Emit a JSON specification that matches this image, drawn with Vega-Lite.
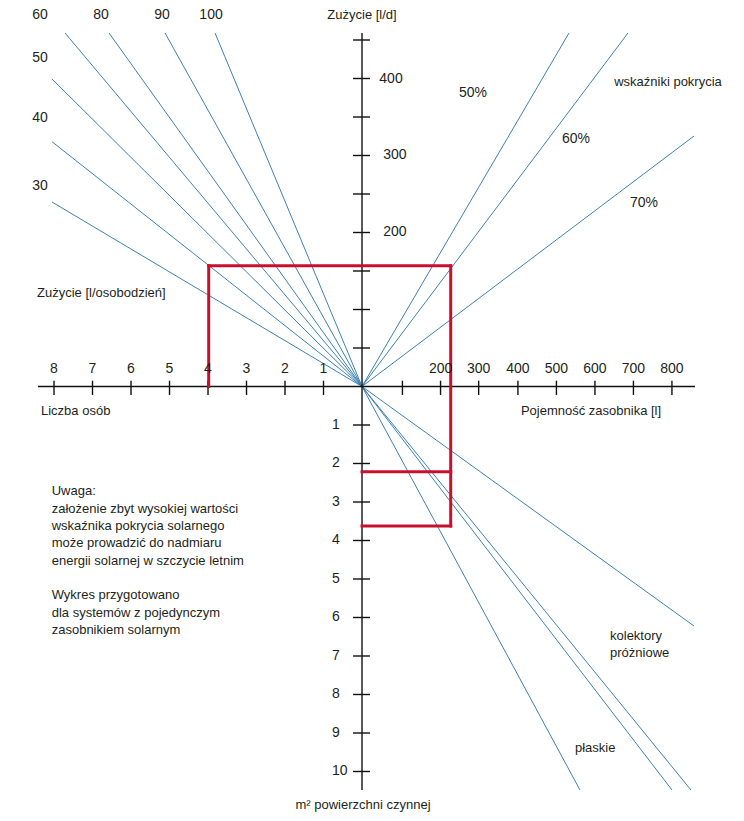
{
  "$schema": "https://vega.github.io/schema/vega-lite/v6.json",
  "width": 744,
  "height": 821,
  "autosize": {"type": "none"},
  "padding": 0,
  "background": "white",
  "config": {"view": {"stroke": null}, "text": {"font": "Liberation Sans", "fontSize": 13, "color": "#231f20"}},
  "datasets": {
    "rays": [
      {"name": "60 l/osobodzień", "x": 0, "y": 0, "x2": -7.714, "y2": 9.182},
      {"name": "80 l/osobodzień", "x": 0, "y": 0, "x2": -6.571, "y2": 9.182},
      {"name": "90 l/osobodzień", "x": 0, "y": 0, "x2": -5.117, "y2": 9.182},
      {"name": "100 l/osobodzień", "x": 0, "y": 0, "x2": -3.818, "y2": 9.182},
      {"name": "50 l/osobodzień", "x": 0, "y": 0, "x2": -8.052, "y2": 7.987},
      {"name": "40 l/osobodzień", "x": 0, "y": 0, "x2": -8.052, "y2": 6.358},
      {"name": "30 l/osobodzień", "x": 0, "y": 0, "x2": -8.052, "y2": 4.792},
      {"name": "50%", "x": 0, "y": 0, "x2": 5.377, "y2": 9.182},
      {"name": "60%", "x": 0, "y": 0, "x2": 6.909, "y2": 9.182},
      {"name": "70%", "x": 0, "y": 0, "x2": 8.623, "y2": 6.506},
      {"name": "kolektory A", "x": 0, "y": 0, "x2": 8.623, "y2": -6.221},
      {"name": "płaskie", "x": 0, "y": 0, "x2": 5.662, "y2": -10.481},
      {"name": "próżniowe 1", "x": 0, "y": 0, "x2": 8.052, "y2": -10.481},
      {"name": "próżniowe 2", "x": 0, "y": 0, "x2": 8.545, "y2": -10.481}
    ],
    "axes": [
      {"x": -8.416, "y": 0, "x2": 8.649, "y2": 0},
      {"x": 0, "y": 9.182, "x2": 0, "y2": -10.481}
    ],
    "ticks": [
      {"x": -8, "y": 0.15, "x2": -8, "y2": -0.22},
      {"x": -7, "y": 0.15, "x2": -7, "y2": -0.22},
      {"x": -6, "y": 0.15, "x2": -6, "y2": -0.22},
      {"x": -5, "y": 0.15, "x2": -5, "y2": -0.22},
      {"x": -4, "y": 0.15, "x2": -4, "y2": -0.22},
      {"x": -3, "y": 0.15, "x2": -3, "y2": -0.22},
      {"x": -2, "y": 0.15, "x2": -2, "y2": -0.22},
      {"x": -1, "y": 0.15, "x2": -1, "y2": -0.22},
      {"x": 1.05, "y": 0.15, "x2": 1.05, "y2": -0.22},
      {"x": 2.04, "y": 0.15, "x2": 2.04, "y2": -0.22},
      {"x": 3.03, "y": 0.15, "x2": 3.03, "y2": -0.22},
      {"x": 4.05, "y": 0.15, "x2": 4.05, "y2": -0.22},
      {"x": 5.05, "y": 0.15, "x2": 5.05, "y2": -0.22},
      {"x": 6.05, "y": 0.15, "x2": 6.05, "y2": -0.22},
      {"x": 7.05, "y": 0.15, "x2": 7.05, "y2": -0.22},
      {"x": 8.05, "y": 0.15, "x2": 8.05, "y2": -0.22},
      {"x": -0.234, "y": 1, "x2": 0.208, "y2": 1},
      {"x": -0.234, "y": 2, "x2": 0.208, "y2": 2},
      {"x": -0.234, "y": 3, "x2": 0.208, "y2": 3},
      {"x": -0.234, "y": 4, "x2": 0.208, "y2": 4},
      {"x": -0.234, "y": 5, "x2": 0.208, "y2": 5},
      {"x": -0.234, "y": 6, "x2": 0.208, "y2": 6},
      {"x": -0.234, "y": 7, "x2": 0.208, "y2": 7},
      {"x": -0.234, "y": 8, "x2": 0.208, "y2": 8},
      {"x": -0.234, "y": 9, "x2": 0.208, "y2": 9},
      {"x": -0.234, "y": -1, "x2": 0.208, "y2": -1},
      {"x": -0.234, "y": -2, "x2": 0.208, "y2": -2},
      {"x": -0.234, "y": -3, "x2": 0.208, "y2": -3},
      {"x": -0.234, "y": -4, "x2": 0.208, "y2": -4},
      {"x": -0.234, "y": -5, "x2": 0.208, "y2": -5},
      {"x": -0.234, "y": -6, "x2": 0.208, "y2": -6},
      {"x": -0.234, "y": -7, "x2": 0.208, "y2": -7},
      {"x": -0.234, "y": -8, "x2": 0.208, "y2": -8},
      {"x": -0.234, "y": -9, "x2": 0.208, "y2": -9},
      {"x": -0.234, "y": -10, "x2": 0.208, "y2": -10}
    ],
    "red": [
      {"x": -3.982, "y": 0, "x2": -3.982, "y2": 3.138},
      {"x": -3.982, "y": 3.138, "x2": 2.304, "y2": 3.138},
      {"x": 2.304, "y": 3.138, "x2": 2.304, "y2": -3.623},
      {"x": 0, "y": -2.213, "x2": 2.304, "y2": -2.213},
      {"x": 0, "y": -3.623, "x2": 2.304, "y2": -3.623}
    ],
    "centerNumbers": [
      {"label": "60", "x": -8.364, "y": 9.649},
      {"label": "80", "x": -6.779, "y": 9.649},
      {"label": "90", "x": -5.195, "y": 9.649},
      {"label": "100", "x": -3.922, "y": 9.649},
      {"label": "50", "x": -8.364, "y": 8.532},
      {"label": "40", "x": -8.364, "y": 6.974},
      {"label": "30", "x": -8.364, "y": 5.208},
      {"label": "8", "x": -8, "y": 0.455},
      {"label": "7", "x": -7, "y": 0.455},
      {"label": "6", "x": -6, "y": 0.455},
      {"label": "5", "x": -5, "y": 0.455},
      {"label": "4", "x": -4, "y": 0.455},
      {"label": "3", "x": -3, "y": 0.455},
      {"label": "2", "x": -2, "y": 0.455},
      {"label": "1", "x": -1, "y": 0.455},
      {"label": "200", "x": 2.04, "y": 0.455},
      {"label": "300", "x": 3.03, "y": 0.455},
      {"label": "400", "x": 4.05, "y": 0.455},
      {"label": "500", "x": 5.05, "y": 0.455},
      {"label": "600", "x": 6.05, "y": 0.455},
      {"label": "700", "x": 7.05, "y": 0.455},
      {"label": "800", "x": 8.05, "y": 0.455},
      {"label": "50%", "x": 2.883, "y": 7.623},
      {"label": "60%", "x": 5.558, "y": 6.429},
      {"label": "70%", "x": 7.325, "y": 4.766}
    ],
    "centerText": [
      {"label": "Zużycie [l/d]", "x": 0, "y": 9.649},
      {"label": "wskaźniki pokrycia", "x": 7.948, "y": 7.909},
      {"label": "Pojemność zasobnika [l]", "x": 5.948, "y": -0.636},
      {"label": "m² powierzchni czynnej", "x": 0.026, "y": -10.87}
    ],
    "leftNumbers": [
      {"label": "400", "x": 0.45, "y": 8},
      {"label": "300", "x": 0.55, "y": 6},
      {"label": "200", "x": 0.55, "y": 4},
      {"label": "1", "x": -0.78, "y": -1},
      {"label": "2", "x": -0.78, "y": -2},
      {"label": "3", "x": -0.78, "y": -3},
      {"label": "4", "x": -0.78, "y": -4},
      {"label": "5", "x": -0.78, "y": -5},
      {"label": "6", "x": -0.78, "y": -6},
      {"label": "7", "x": -0.78, "y": -7},
      {"label": "8", "x": -0.78, "y": -8},
      {"label": "9", "x": -0.78, "y": -9},
      {"label": "10", "x": -0.78, "y": -10}
    ],
    "leftText": [
      {"label": "Zużycie [l/osobodzień]", "x": -8.442, "y": 2.429},
      {"label": "Liczba osób", "x": -8.338, "y": -0.636},
      {"label": "kolektory", "x": 6.442, "y": -6.481},
      {"label": "próżniowe", "x": 6.442, "y": -6.922},
      {"label": "płaskie", "x": 5.532, "y": -9.39},
      {"label": "Uwaga:", "x": -8.06, "y": -2.706},
      {"label": "założenie zbyt wysokiej wartości", "x": -8.06, "y": -3.182},
      {"label": "wskaźnika pokrycia solarnego", "x": -8.06, "y": -3.623},
      {"label": "może prowadzić do nadmiaru", "x": -8.06, "y": -4.057},
      {"label": "energii solarnej w szczycie letnim", "x": -8.06, "y": -4.525},
      {"label": "Wykres przygotowano", "x": -8.06, "y": -5.416},
      {"label": "dla systemów z pojedynczym", "x": -8.06, "y": -5.875},
      {"label": "zasobnikiem solarnym", "x": -8.06, "y": -6.325}
    ]
  },
  "layer": [
    {
      "data": {"name": "rays"},
      "mark": {"type": "rule", "color": "#3d80b4", "strokeWidth": 1},
      "encoding": {
        "x": {"field": "x", "type": "quantitative", "scale": {"domain": [-9.403, 9.922], "nice": false, "zero": false}, "axis": null},
        "y": {"field": "y", "type": "quantitative", "scale": {"domain": [-11.286, 10.039], "nice": false, "zero": false}, "axis": null},
        "x2": {"field": "x2"},
        "y2": {"field": "y2"}
      }
    },
    {
      "data": {"name": "axes"},
      "mark": {"type": "rule", "color": "#111111", "strokeWidth": 1.4},
      "encoding": {
        "x": {"field": "x", "type": "quantitative", "scale": {"domain": [-9.403, 9.922], "nice": false, "zero": false}, "axis": null},
        "y": {"field": "y", "type": "quantitative", "scale": {"domain": [-11.286, 10.039], "nice": false, "zero": false}, "axis": null},
        "x2": {"field": "x2"},
        "y2": {"field": "y2"}
      }
    },
    {
      "data": {"name": "ticks"},
      "mark": {"type": "rule", "color": "#111111", "strokeWidth": 1.4},
      "encoding": {
        "x": {"field": "x", "type": "quantitative", "scale": {"domain": [-9.403, 9.922], "nice": false, "zero": false}, "axis": null},
        "y": {"field": "y", "type": "quantitative", "scale": {"domain": [-11.286, 10.039], "nice": false, "zero": false}, "axis": null},
        "x2": {"field": "x2"},
        "y2": {"field": "y2"}
      }
    },
    {
      "data": {"name": "red"},
      "mark": {"type": "rule", "color": "#c8102e", "strokeWidth": 3, "strokeCap": "square"},
      "encoding": {
        "x": {"field": "x", "type": "quantitative", "scale": {"domain": [-9.403, 9.922], "nice": false, "zero": false}, "axis": null},
        "y": {"field": "y", "type": "quantitative", "scale": {"domain": [-11.286, 10.039], "nice": false, "zero": false}, "axis": null},
        "x2": {"field": "x2"},
        "y2": {"field": "y2"}
      }
    },
    {
      "data": {"name": "centerNumbers"},
      "mark": {"type": "text", "align": "center", "baseline": "middle", "fontSize": 14},
      "encoding": {
        "x": {"field": "x", "type": "quantitative", "scale": {"domain": [-9.403, 9.922], "nice": false, "zero": false}, "axis": null},
        "y": {"field": "y", "type": "quantitative", "scale": {"domain": [-11.286, 10.039], "nice": false, "zero": false}, "axis": null},
        "text": {"field": "label"}
      }
    },
    {
      "data": {"name": "centerText"},
      "mark": {"type": "text", "align": "center", "baseline": "middle"},
      "encoding": {
        "x": {"field": "x", "type": "quantitative", "scale": {"domain": [-9.403, 9.922], "nice": false, "zero": false}, "axis": null},
        "y": {"field": "y", "type": "quantitative", "scale": {"domain": [-11.286, 10.039], "nice": false, "zero": false}, "axis": null},
        "text": {"field": "label"}
      }
    },
    {
      "data": {"name": "leftNumbers"},
      "mark": {"type": "text", "align": "left", "baseline": "middle", "fontSize": 14},
      "encoding": {
        "x": {"field": "x", "type": "quantitative", "scale": {"domain": [-9.403, 9.922], "nice": false, "zero": false}, "axis": null},
        "y": {"field": "y", "type": "quantitative", "scale": {"domain": [-11.286, 10.039], "nice": false, "zero": false}, "axis": null},
        "text": {"field": "label"}
      }
    },
    {
      "data": {"name": "leftText"},
      "mark": {"type": "text", "align": "left", "baseline": "middle"},
      "encoding": {
        "x": {"field": "x", "type": "quantitative", "scale": {"domain": [-9.403, 9.922], "nice": false, "zero": false}, "axis": null},
        "y": {"field": "y", "type": "quantitative", "scale": {"domain": [-11.286, 10.039], "nice": false, "zero": false}, "axis": null},
        "text": {"field": "label"}
      }
    }
  ]
}
